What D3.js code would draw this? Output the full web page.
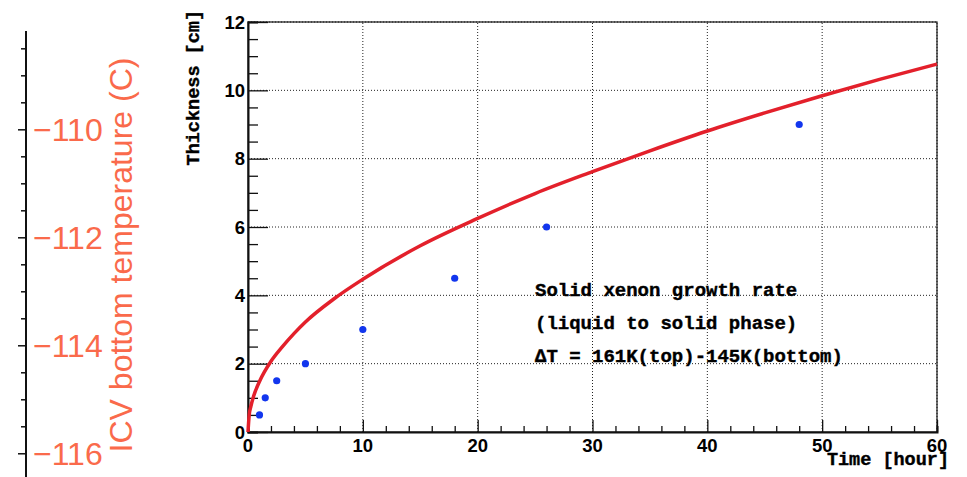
<!DOCTYPE html>
<html>
<head>
<meta charset="utf-8">
<script src="https://cdn.jsdelivr.net/npm/d3@7"></script>
<style>
  body { margin: 0; background: #fff; }
  svg { display: block; }
</style>
</head>
<body>
<script>
'use strict';

// measured points (time in hours, thickness in cm)
const timeHours = [1, 1.5, 2.5, 5, 10, 18, 26, 48];
const thicknessCm = [0.5, 1, 1.5, 2, 3, 4.5, 6, 9];

// fit curve, values
const fitTime = [0, 0.1, 0.25, 0.5, 1, 2, 3, 4, 5, 7.5, 10, 15, 20, 25, 30, 35, 40, 45, 50, 55, 60];
const fitThickness = [0, 0.48, 0.75, 1.06, 1.48, 2.07, 2.5, 2.88, 3.22, 3.9, 4.47, 5.45, 6.25, 6.98, 7.62, 8.23, 8.81, 9.34, 9.84, 10.32, 10.77];

const xTickLabels = [0, 10, 20, 30, 40, 50, 60];
const yTickLabels = [0, 2, 4, 6, 8, 10, 12];
const tempTickLabels = [-110, -112, -114, -116];

const noteLines = [
  "Solid xenon growth rate",
  "(liquid to solid phase)",
  "\u2206T = 161K(top)-145K(bottom)"
];

const W = 967, H = 477;
const orange = "#fa6a4b";
const mono = "'Liberation Mono', 'Courier New', monospace";
const sans = "'Liberation Sans', Arial, sans-serif";

const svg = d3.select("body").append("svg")
  .attr("width", W)
  .attr("height", H);

// ---------- left temperature axis (cropped) ----------
const tScale = d3.scaleLinear()
  .domain([-116.43, -108.17])
  .range([477, 31]);

const tMinor = d3.range(-116, -108.4, 0.5);
svg.append("line")
  .attr("x1", 26).attr("x2", 26)
  .attr("y1", tScale.range()[1]).attr("y2", tScale.range()[0])
  .attr("stroke", "#111").attr("stroke-width", 2);

svg.selectAll(".tminor")
  .data(tMinor)
  .enter()
  .append("line")
  .attr("x1", d => Number.isInteger(d) && d % 2 === 0 ? 18 : 21)
  .attr("x2", 26)
  .attr("y1", d => tScale(d))
  .attr("y2", d => tScale(d))
  .attr("stroke", "#111").attr("stroke-width", 1.5);

svg.selectAll(".tlab")
  .data(tempTickLabels)
  .enter()
  .append("text")
  .attr("x", 33)
  .attr("y", d => tScale(d))
  .attr("dy", "0.36em")
  .style("font-family", sans)
  .style("font-size", "32px")
  .attr("fill", orange)
  .text(d => "\u2212" + Math.abs(d));

svg.append("text")
  .attr("transform", "translate(132, 255)rotate(-90)")
  .attr("text-anchor", "middle")
  .style("font-family", sans)
  .style("font-size", "32px")
  .attr("fill", orange)
  .text("ICV bottom temperature (C)");

// ---------- main plot ----------
const x = d3.scaleLinear().domain([0, 60]).range([248, 937]);
const y = d3.scaleLinear().domain([0, 12]).range([432, 22]);

// grid
svg.append("g")
  .selectAll("line")
  .data(xTickLabels.slice(1))
  .enter()
  .append("line")
  .attr("x1", d => x(d)).attr("x2", d => x(d))
  .attr("y1", y(0)).attr("y2", y(12))
  .attr("stroke", "#222").attr("stroke-width", 1)
  .attr("stroke-dasharray", "1,2");

svg.append("g")
  .selectAll("line")
  .data(yTickLabels.slice(1))
  .enter()
  .append("line")
  .attr("x1", x(0)).attr("x2", x(60))
  .attr("y1", d => y(d)).attr("y2", d => y(d))
  .attr("stroke", "#222").attr("stroke-width", 1)
  .attr("stroke-dasharray", "1,2");

// frame
svg.append("rect")
  .attr("x", x(0)).attr("y", y(12))
  .attr("width", x(60) - x(0)).attr("height", y(0) - y(12))
  .attr("fill", "none").attr("stroke", "#111").attr("stroke-width", 1.2);

// y axis with major + minor ticks
const yAxis = d3.axisRight(y)
  .tickValues(d3.range(0, 12.01, 0.5))
  .tickSize(10)
  .tickFormat("");
const gy = svg.append("g")
  .attr("transform", "translate(" + x(0) + ",0)")
  .call(yAxis);
gy.select(".domain").attr("stroke", "#111").attr("stroke-width", 2);
gy.selectAll(".tick line")
  .attr("stroke", "#111").attr("stroke-width", 1.3)
  .attr("x2", d => d % 2 === 0 ? 20 : 10);

svg.selectAll(".ylab")
  .data(yTickLabels)
  .enter()
  .append("text")
  .attr("x", 245)
  .attr("y", d => y(d))
  .attr("dy", "0.36em")
  .attr("text-anchor", "end")
  .style("font-family", sans)
  .style("font-weight", "bold")
  .style("font-size", "18.5px")
  .text(d => d);

// x axis with major + minor ticks
const xAxis = d3.axisTop(x)
  .tickValues(d3.range(0, 60.01, 2))
  .tickSize(6)
  .tickFormat("");
const gx = svg.append("g")
  .attr("transform", "translate(0," + y(0) + ")")
  .call(xAxis);
gx.select(".domain").attr("stroke", "#111").attr("stroke-width", 2);
gx.selectAll(".tick line")
  .attr("stroke", "#111").attr("stroke-width", 1.3)
  .attr("y2", d => d % 10 === 0 ? -12 : -6);

svg.selectAll(".xlab")
  .data(xTickLabels)
  .enter()
  .append("text")
  .attr("x", d => x(d))
  .attr("y", 452)
  .attr("text-anchor", "middle")
  .style("font-family", sans)
  .style("font-weight", "bold")
  .style("font-size", "18.5px")
  .text(d => d);

// axis titles
svg.append("text")
  .attr("x", 949)
  .attr("y", 465)
  .attr("text-anchor", "end")
  .style("font-family", mono)
  .style("font-weight", "bold")
  .style("font-size", "18.5px")
  .attr("stroke", "#000").attr("stroke-width", 0.4)
  .text("Time [hour]");

svg.append("text")
  .attr("transform", "translate(199, 10)rotate(-90)")
  .attr("text-anchor", "end")
  .style("font-family", mono)
  .style("font-weight", "bold")
  .style("font-size", "18.5px")
  .attr("stroke", "#000").attr("stroke-width", 0.4)
  .text("Thickness [cm]");

// fit curve
const fitData = fitTime.map((t, i) => ({ t: t, v: fitThickness[i] }));
const line = d3.line()
  .x(d => x(d.t))
  .y(d => y(d.v))
  .curve(d3.curveMonotoneX);

svg.append("path")
  .datum(fitData)
  .attr("fill", "none")
  .attr("stroke", "#e3202b")
  .attr("stroke-width", 3.5)
  .attr("stroke-linejoin", "round")
  .attr("d", line);

// data points
svg.selectAll(".dot")
  .data(timeHours.map((t, i) => ({ t: t, v: thicknessCm[i] })))
  .enter()
  .append("circle")
  .attr("cx", d => x(d.t))
  .attr("cy", d => y(d.v))
  .attr("r", 3.6)
  .attr("fill", "#1236ee");

// annotation
svg.selectAll(".note")
  .data(noteLines)
  .enter()
  .append("text")
  .attr("x", 535)
  .attr("y", (d, i) => 296 + i * 33)
  .attr("xml:space", "preserve")
  .style("font-family", mono)
  .style("font-weight", "bold")
  .style("font-size", "19px")
  .attr("stroke", "#000").attr("stroke-width", 0.4)
  .text(d => d);
</script>
</body>
</html>
